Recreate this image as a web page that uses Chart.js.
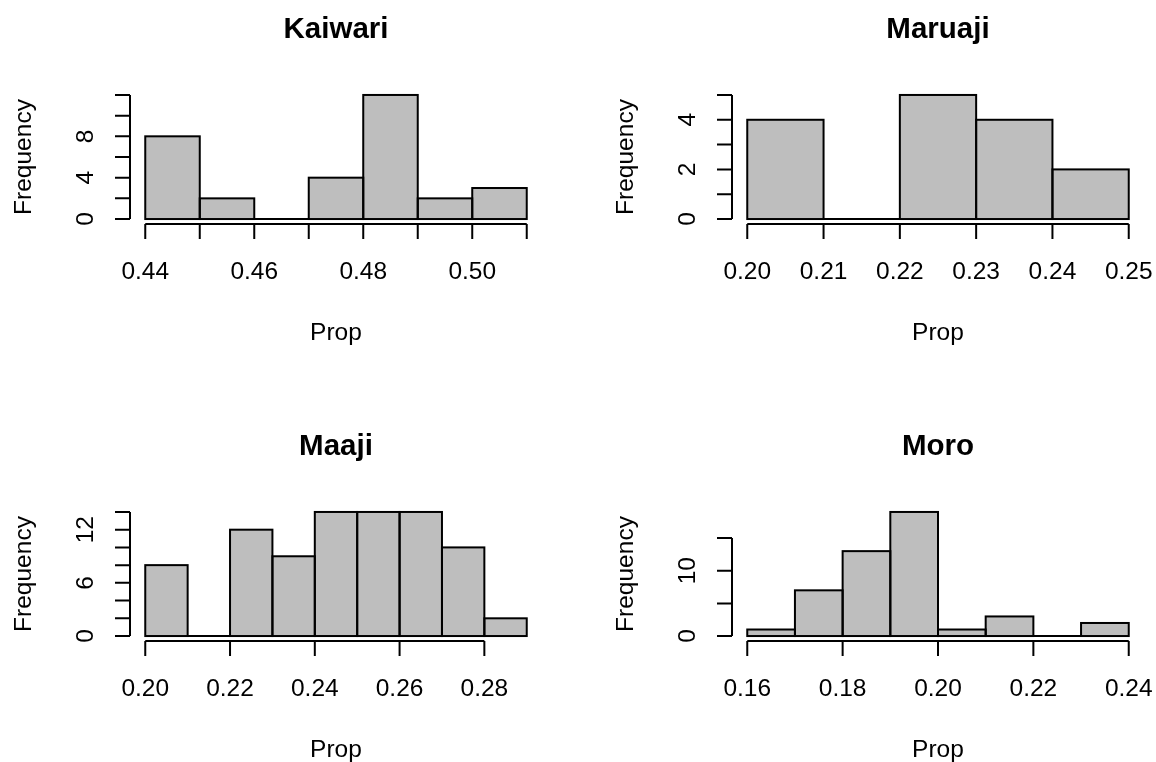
<!DOCTYPE html>
<html>
<head>
<meta charset="utf-8">
<script src="https://cdn.jsdelivr.net/npm/chart.js@4.4.1/dist/chart.umd.min.js"></script>
<style>
  html, body { margin: 0; padding: 0; background: #fff; overflow: hidden; }
  #wrap { position: relative; width: 1156px; height: 762px; overflow: hidden; }
  #wrap canvas { position: absolute; }
</style>
</head>
<body>
<div id="wrap"></div>
<script>
// --- data ---
const kaiwariBreaks = [0.44, 0.45, 0.46, 0.47, 0.48, 0.49, 0.50, 0.51];
const kaiwariCounts = [8, 2, 0, 4, 12, 2, 3];
const kaiwariXTicks = [0.44, 0.45, 0.46, 0.47, 0.48, 0.49, 0.50, 0.51];
const kaiwariXLabels = ['0.44', '', '0.46', '', '0.48', '', '0.50', ''];
const kaiwariYTicks = [0, 2, 4, 6, 8, 10, 12];
const kaiwariYLabels = ['0', '', '4', '', '8', '', ''];

const maruajiBreaks = [0.20, 0.21, 0.22, 0.23, 0.24, 0.25];
const maruajiCounts = [4, 0, 5, 4, 2];
const maruajiXTicks = [0.20, 0.21, 0.22, 0.23, 0.24, 0.25];
const maruajiXLabels = ['0.20', '0.21', '0.22', '0.23', '0.24', '0.25'];
const maruajiYTicks = [0, 1, 2, 3, 4, 5];
const maruajiYLabels = ['0', '', '2', '', '4', ''];

const maajiBreaks = [0.20, 0.21, 0.22, 0.23, 0.24, 0.25, 0.26, 0.27, 0.28, 0.29];
const maajiCounts = [8, 0, 12, 9, 14, 14, 14, 10, 2];
const maajiXTicks = [0.20, 0.22, 0.24, 0.26, 0.28];
const maajiXLabels = ['0.20', '0.22', '0.24', '0.26', '0.28'];
const maajiYTicks = [0, 2, 4, 6, 8, 10, 12, 14];
const maajiYLabels = ['0', '', '', '6', '', '', '12', ''];

const moroBreaks = [0.16, 0.17, 0.18, 0.19, 0.20, 0.21, 0.22, 0.23, 0.24];
const moroCounts = [1, 7, 13, 19, 1, 3, 0, 2];
const moroXTicks = [0.16, 0.18, 0.20, 0.22, 0.24];
const moroXLabels = ['0.16', '0.18', '0.20', '0.22', '0.24'];
const moroYTicks = [0, 5, 10, 15];
const moroYLabels = ['0', '', '10', ''];

const panels = [
  { title: 'Kaiwari', breaks: kaiwariBreaks, counts: kaiwariCounts, xTicks: kaiwariXTicks, xLabels: kaiwariXLabels, yTicks: kaiwariYTicks, yLabels: kaiwariYLabels, left: 0, top: 0 },
  { title: 'Maruaji', breaks: maruajiBreaks, counts: maruajiCounts, xTicks: maruajiXTicks, xLabels: maruajiXLabels, yTicks: maruajiYTicks, yLabels: maruajiYLabels, left: 602, top: 0 },
  { title: 'Maaji', breaks: maajiBreaks, counts: maajiCounts, xTicks: maajiXTicks, xLabels: maajiXLabels, yTicks: maajiYTicks, yLabels: maajiYLabels, left: 0, top: 417 },
  { title: 'Moro', breaks: moroBreaks, counts: moroCounts, xTicks: moroXTicks, xLabels: moroXLabels, yTicks: moroYTicks, yLabels: moroYLabels, left: 602, top: 417 }
];

const W = 602, H = 417;
const FONT = '"Liberation Sans", Arial, Helvetica, sans-serif';
const TICK = 15;

// R-style axes, outlines and labels drawn on top of the Chart.js bars
const rStyle = {
  id: 'rStyle',
  afterDatasetsDraw(chart, args, opts) {
    const p = opts.panel;
    const ctx = chart.ctx;
    const xs = chart.scales.x, ys = chart.scales.y;
    const area = chart.chartArea;
    ctx.save();
    ctx.strokeStyle = '#000';
    ctx.fillStyle = '#000';
    ctx.lineWidth = 2;

    // bar outlines (zero bins become a line on the baseline)
    p.counts.forEach((c, i) => {
      const x0 = xs.getPixelForValue(p.breaks[i]);
      const x1 = xs.getPixelForValue(p.breaks[i + 1]);
      const y0 = ys.getPixelForValue(0);
      const y1 = ys.getPixelForValue(c);
      ctx.strokeRect(x0, y1, x1 - x0, y0 - y1);
    });

    // x axis
    const ax = area.bottom;
    ctx.beginPath();
    ctx.moveTo(xs.getPixelForValue(p.xTicks[0]), ax);
    ctx.lineTo(xs.getPixelForValue(p.xTicks[p.xTicks.length - 1]), ax);
    p.xTicks.forEach(t => {
      const px = xs.getPixelForValue(t);
      ctx.moveTo(px, ax);
      ctx.lineTo(px, ax + TICK);
    });
    ctx.stroke();
    ctx.font = '24.5px ' + FONT;
    ctx.textAlign = 'center';
    ctx.textBaseline = 'alphabetic';
    p.xTicks.forEach((t, i) => {
      if (p.xLabels[i]) ctx.fillText(p.xLabels[i], xs.getPixelForValue(t), ax + 55);
    });

    // y axis
    const ay = area.left;
    ctx.beginPath();
    ctx.moveTo(ay, ys.getPixelForValue(p.yTicks[0]));
    ctx.lineTo(ay, ys.getPixelForValue(p.yTicks[p.yTicks.length - 1]));
    p.yTicks.forEach(t => {
      const py = ys.getPixelForValue(t);
      ctx.moveTo(ay, py);
      ctx.lineTo(ay - TICK, py);
    });
    ctx.stroke();
    p.yTicks.forEach((t, i) => {
      if (!p.yLabels[i]) return;
      ctx.save();
      ctx.translate(ay - 37, ys.getPixelForValue(t));
      ctx.rotate(-Math.PI / 2);
      ctx.fillText(p.yLabels[i], 0, 0);
      ctx.restore();
    });

    // titles
    const cx = (area.left + area.right) / 2;
    ctx.font = 'bold 29.5px ' + FONT;
    ctx.fillText(p.title, cx, 38);
    ctx.font = '24.5px ' + FONT;
    ctx.fillText('Prop', cx, 340);
    ctx.save();
    ctx.translate(30.5, (area.top + area.bottom) / 2);
    ctx.rotate(-Math.PI / 2);
    ctx.fillText('Frequency', 0, 0);
    ctx.restore();

    ctx.restore();
  }
};

const wrap = document.getElementById('wrap');
panels.forEach(p => {
  const canvas = document.createElement('canvas');
  canvas.width = W;
  canvas.height = H;
  canvas.style.left = p.left + 'px';
  canvas.style.top = p.top + 'px';
  canvas.style.width = W + 'px';
  canvas.style.height = H + 'px';
  wrap.appendChild(canvas);

  const lo = p.breaks[0], hi = p.breaks[p.breaks.length - 1];
  const xPad = (hi - lo) * 0.04;
  const yMax = Math.max(...p.counts);

  new Chart(canvas, {
    type: 'bar',
    data: {
      datasets: [{
        data: p.counts.map((c, i) => ({ x: (p.breaks[i] + p.breaks[i + 1]) / 2, y: c })),
        backgroundColor: '#BEBEBE',
        borderWidth: 0,
        barPercentage: 1,
        categoryPercentage: 1
      }]
    },
    options: {
      responsive: false,
      animation: false,
      devicePixelRatio: 1,
      events: [],
      layout: { padding: { left: 130, right: W - 542, top: 90, bottom: H - 224 } },
      scales: {
        x: { type: 'linear', offset: false, min: lo - xPad, max: hi + xPad, display: false },
        y: { type: 'linear', min: -yMax * 0.04, max: yMax * 1.04, display: false }
      },
      plugins: {
        legend: { display: false },
        tooltip: { enabled: false },
        rStyle: { panel: p }
      }
    },
    plugins: [rStyle]
  });
});
</script>
</body>
</html>
